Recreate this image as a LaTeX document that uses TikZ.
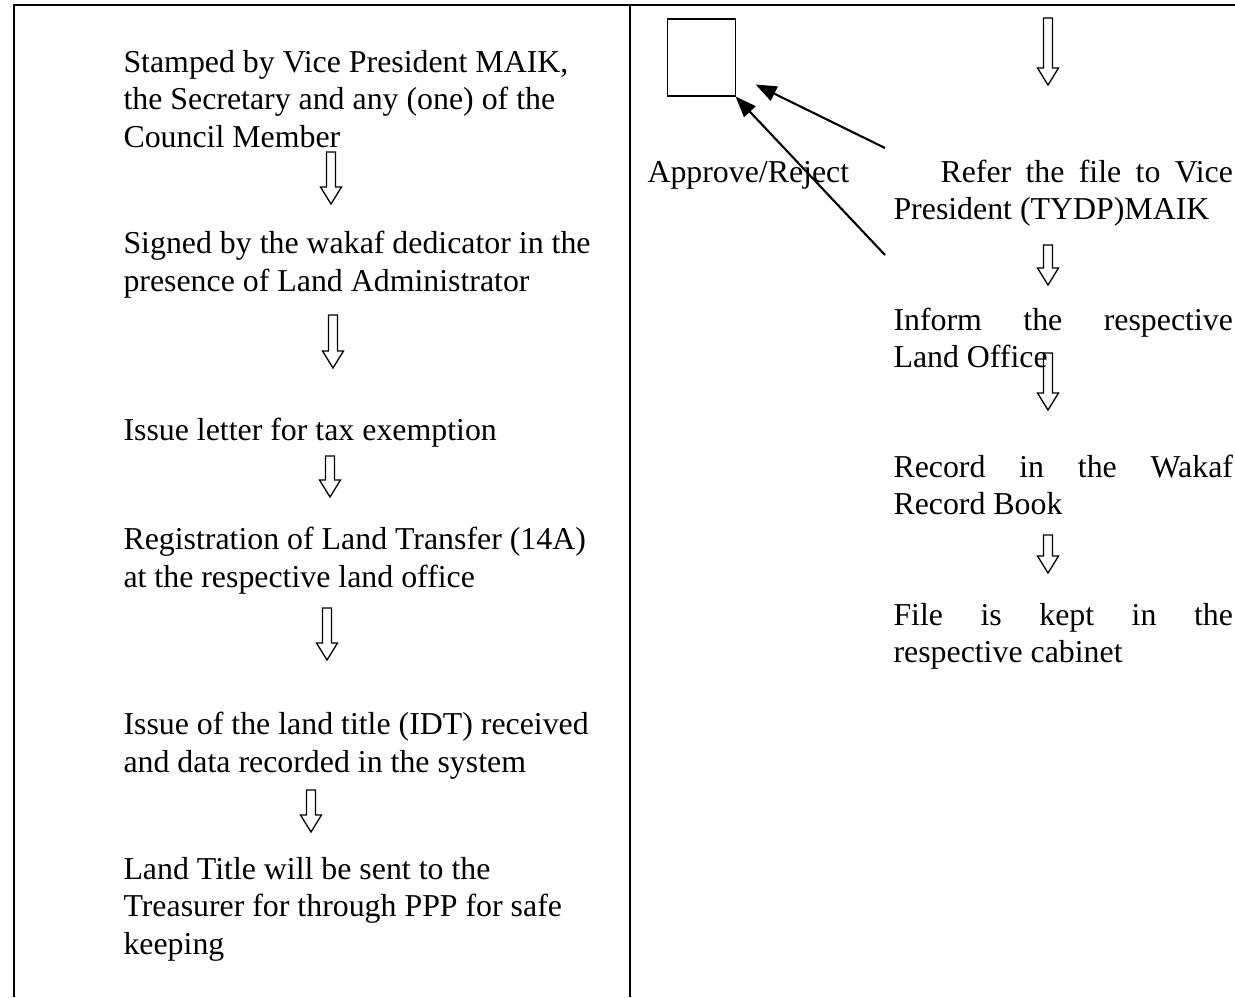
\documentclass[tikz,border=0pt]{standalone}
\usepackage{fontspec}
\setmainfont{Liberation Serif}
\usetikzlibrary{positioning,calc,arrows.meta}

% hollow block arrow pointing down: top point, length (px)
\newcommand{\hollowdown}[2]{%
  \draw[hollow] (#1) ++(-4.5,0) -- ++(0,#2-17) -- ++(-6,0) -- ++(10.5,17)
    -- ++(10.5,-17) -- ++(-6,0) -- ++(0,-#2+17) -- cycle;}

\begin{document}
\begin{tikzpicture}[x=0.383pt,y=-0.383pt]
        \tikzstyle{rule}=[line width=0.77pt]
        \tikzstyle{hollow}=[line width=0.5pt]
        % base west of a left aligned text is its last line
        \tikzstyle{txt}=[inner sep=0pt,anchor=base west,align=left,font=\fontsize{12.2pt}{14.2pt}\selectfont]
        \tikzstyle{jtxt}=[txt,text width=130pt,align=justify]
        \tikzstyle{pointer}=[line width=0.8pt,-{Triangle[length=8pt,width=6pt]}]
        \useasboundingbox (0,0) rectangle (1235,997);

        % table lines
        \draw[rule] (14,997) -- (14,5) -- (1235,5);
        \draw[rule] (630,5) -- (630,997);

        % left column
        \node[txt] (stamp) at (123,147) {Stamped by Vice President MAIK,\\the Secretary and any (one) of the\\Council Member};
        \node[txt] (signed) at (123,291) {Signed by the wakaf dedicator in the\\presence of Land Administrator};
        \node[txt] (letter) at (123,440) {Issue letter for tax exemption};
        \node[txt] (regist) at (123,587) {Registration of Land Transfer (14A)\\at the respective land office};
        \node[txt] (title) at (123,772) {Issue of the land title (IDT) received\\and data recorded in the system};
        \node[txt] (sent) at (123,954) {Land Title will be sent to the\\Treasurer for through PPP for safe\\keeping};

        \coordinate (a1) at (331,152);
        \coordinate (a2) at (333,315);
        \coordinate (a3) at (330,456);
        \coordinate (a4) at (327,608);
        \coordinate (a5) at (311,790);
        \hollowdown{a1}{52}
        \hollowdown{a2}{53}
        \hollowdown{a3}{41}
        \hollowdown{a4}{52}
        \hollowdown{a5}{42}

        % right column
        \node[draw,line width=0.4pt,minimum width=25.7pt,minimum height=29.5pt,inner sep=0pt] (decide) at (701.5,57.5) {};
        \node[txt] (approve) at (647,182) {Approve/Reject};
        \node[jtxt] (refer) at (893,182) {\hspace*{18pt}Refer the file to Vice\linebreak President (TYDP)MAIK};
        \node[jtxt] (inform) at (893,330) {Inform the respective\linebreak Land Office};
        \node[jtxt] (record) at (893,477) {Record in the Wakaf\linebreak Record Book};
        \node[jtxt] (kept) at (893,625) {File is kept in the\linebreak respective cabinet};

        \coordinate (b1) at (1048,18);
        \coordinate (b2) at (1048,245);
        \coordinate (b3) at (1048,353);
        \coordinate (b4) at (1048,535);
        \hollowdown{b1}{67}
        \hollowdown{b2}{40}
        \hollowdown{b3}{57}
        \hollowdown{b4}{38}

        \coordinate (ta) at (885,148);
        \coordinate (tb) at (885,255);
        \draw[pointer] (ta) -- ($(decide.east)+(20,27)$);
        \draw[pointer] (tb) -- (decide.south east);
    \end{tikzpicture}
\end{document}
